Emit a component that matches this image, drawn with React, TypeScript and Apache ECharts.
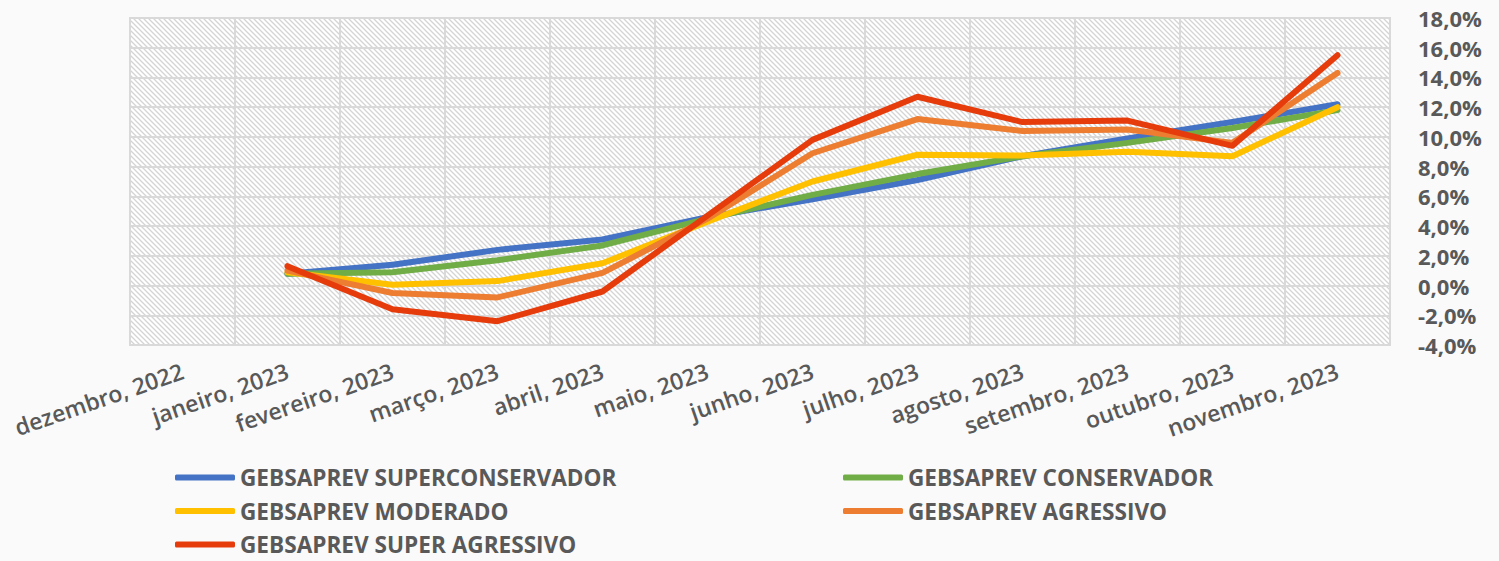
import React, { useEffect, useRef } from "react";
import * as echarts from "echarts";

const categories = [
  "dezembro, 2022",
  "janeiro, 2023",
  "fevereiro, 2023",
  "março, 2023",
  "abril, 2023",
  "maio, 2023",
  "junho, 2023",
  "julho, 2023",
  "agosto, 2023",
  "setembro, 2023",
  "outubro, 2023",
  "novembro, 2023",
];

const superConservador = [null, 0.8, 1.4, 2.4, 3.1, 4.6, 5.8, 7.1, 8.7, 9.9, 11.0, 12.2];
const conservador = [null, 0.8, 0.9, 1.7, 2.7, 4.5, 6.1, 7.5, 8.7, 9.6, 10.6, 11.8];
const moderado = [null, 0.9, 0.05, 0.3, 1.5, 4.3, 7.0, 8.8, 8.75, 9.0, 8.7, 12.0];
const agressivo = [null, 1.0, -0.5, -0.8, 0.85, 4.5, 8.9, 11.2, 10.4, 10.5, 9.6, 14.3];
const superAgressivo = [null, 1.3, -1.6, -2.4, -0.4, 4.7, 9.8, 12.7, 11.0, 11.1, 9.4, 15.5];

const seriesNames = [
  "GEBSAPREV SUPERCONSERVADOR",
  "GEBSAPREV CONSERVADOR",
  "GEBSAPREV MODERADO",
  "GEBSAPREV AGRESSIVO",
  "GEBSAPREV SUPER AGRESSIVO",
];
const seriesColors = ["#4472C4", "#70AD47", "#FFC000", "#ED7D31", "#E63C0C"];
const seriesData = [superConservador, conservador, moderado, agressivo, superAgressivo];

function makeHatch(): string {
  const c = document.createElement("canvas");
  const s = 5;
  c.width = s;
  c.height = s;
  const ctx = c.getContext("2d")!;
  ctx.fillStyle = "#ffffff";
  ctx.fillRect(0, 0, s, s);
  ctx.strokeStyle = "#D4D4D4";
  ctx.lineWidth = 1.3;
  ctx.beginPath();
  ctx.moveTo(-1, -1);
  ctx.lineTo(s + 1, s + 1);
  ctx.moveTo(-1, s - 1);
  ctx.lineTo(1, s + 1);
  ctx.moveTo(s - 1, -1);
  ctx.lineTo(s + 1, 1);
  ctx.stroke();
  return c.toDataURL();
}

export default function App() {
  const ref = useRef<HTMLDivElement>(null);
  useEffect(() => {
    if (!ref.current) return;
    const chart = echarts.init(ref.current, null, { renderer: "svg" });
    const font = "'Open Sans', 'DejaVu Sans', sans-serif";
    const hatchImg = new Image();
    hatchImg.src = makeHatch();
    const legendText = { color: "#595959", fontWeight: "bold", fontSize: 22.6, fontFamily: font };
    chart.setOption({
      animation: false,
      backgroundColor: "#FAFAFA",
      grid: {
        left: 130,
        right: 109,
        top: 18,
        bottom: 216,
        show: true,
        backgroundColor: { image: hatchImg, repeat: "repeat" },
        borderColor: "#D9D9D9",
        borderWidth: 2,
      },
      legend: [
        {
          data: [seriesNames[0], seriesNames[2], seriesNames[4]],
          orient: "vertical",
          left: 175,
          top: 466,
          height: 95,
          padding: 0,
          itemWidth: 60,
          itemHeight: 6,
          itemGap: 10.5,
          icon: "roundRect",
          textStyle: legendText,
        },
        {
          data: [seriesNames[1], seriesNames[3]],
          orient: "vertical",
          left: 843,
          top: 466,
          height: 95,
          padding: 0,
          itemWidth: 60,
          itemHeight: 6,
          itemGap: 10.5,
          icon: "roundRect",
          textStyle: legendText,
        },
      ],
      xAxis: {
        type: "category",
        data: categories,
        boundaryGap: true,
        axisLine: { show: false },
        axisTick: { show: false },
        splitLine: { show: true, lineStyle: { color: "#D9D9D9", width: 2 } },
        axisLabel: {
          interval: 0,
          rotate: 19,
          margin: 25,
          color: "#595959",
          fontSize: 23,
          fontWeight: 600,
          fontFamily: font,
        },
      },
      yAxis: {
        type: "value",
        position: "right",
        min: -4,
        max: 18,
        interval: 2,
        axisLine: { show: false },
        axisTick: { show: false },
        splitLine: { show: true, lineStyle: { color: "#D9D9D9", width: 2 } },
        axisLabel: {
          margin: 28,
          color: "#595959",
          fontSize: 22,
          fontWeight: "bold",
          fontFamily: font,
          formatter: (v: number) => v.toFixed(1).replace(".", ",") + "%",
        },
      },
      series: seriesNames.map((name, i) => ({
        name,
        type: "line",
        data: seriesData[i],
        symbol: "none",
        connectNulls: false,
        itemStyle: { color: seriesColors[i] },
        lineStyle: { color: seriesColors[i], width: 6, cap: "round", join: "round" },
      })),
    });
    return () => chart.dispose();
  }, []);
  return (
    <div
      ref={ref}
      style={{ position: "fixed", left: 0, top: 0, width: 1499, height: 561 }}
    />
  );
}
